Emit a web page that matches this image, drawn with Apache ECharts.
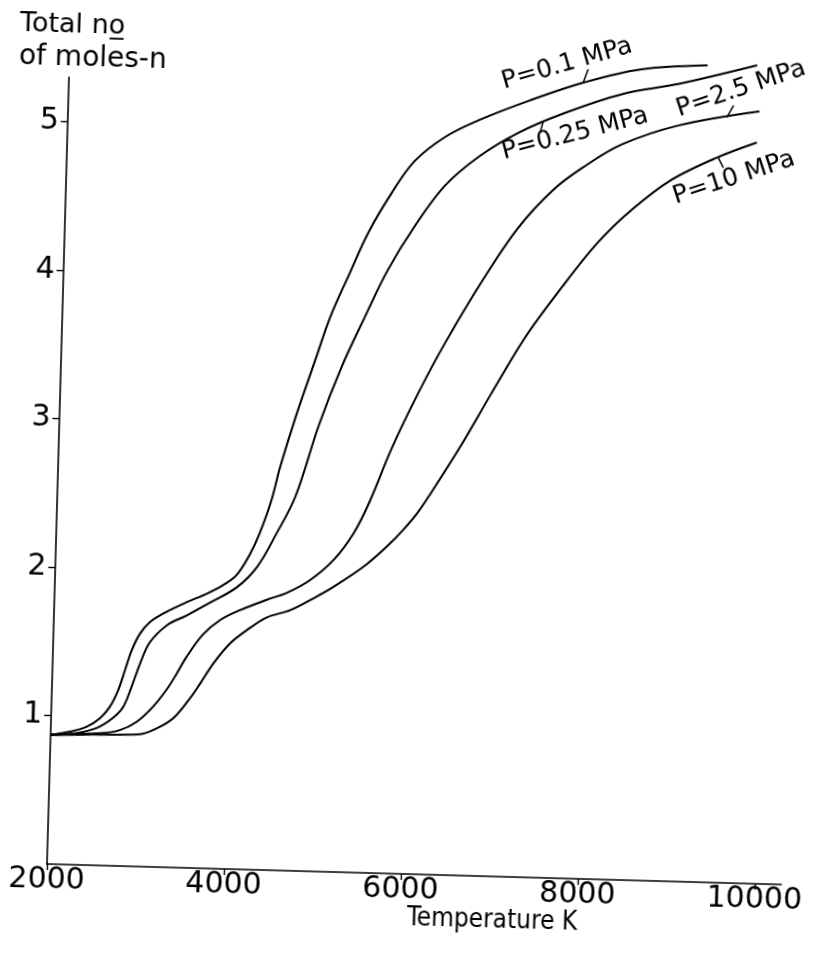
<!DOCTYPE html>
<html><head><meta charset="utf-8">
<script src="https://cdn.jsdelivr.net/npm/echarts@6/dist/echarts.min.js"></script>
<style>
html,body{margin:0;padding:0;width:814px;height:956px;overflow:hidden;background:#fff;}
#chart{position:absolute;left:-40px;top:-20px;width:894px;height:1000px;transform-origin:87px 884px;transform:rotate(1.6deg);}
</style></head><body><div id="chart"></div>
<script>
// ---- data ----
const tempA  = [2000, 2220, 2400, 2550, 2660, 2750, 2820, 2890, 2980, 3090, 3270, 3500, 3720, 3900, 4050, 4200, 4300, 4420, 4510, 4670, 4870, 5030, 5230, 5430, 5680, 5930, 6270, 6650, 7210, 7810, 8450, 9210];
const molesA = [0.87, 0.895, 0.93, 0.99, 1.07, 1.185, 1.32, 1.455, 1.57, 1.65, 1.72, 1.79, 1.85, 1.91, 1.98, 2.13, 2.27, 2.49, 2.72, 3.06, 3.44, 3.74, 4.03, 4.31, 4.58, 4.80, 4.97, 5.09, 5.23, 5.36, 5.46, 5.50];
const tempB  = [2000, 2300, 2520, 2700, 2810, 2900, 2990, 3090, 3280, 3500, 3760, 4060, 4280, 4490, 4690, 4930, 5170, 5420, 5660, 5950, 6280, 6660, 7090, 7600, 8250, 8890, 9770];
const molesB = [0.87, 0.888, 0.925, 0.996, 1.07, 1.21, 1.37, 1.51, 1.63, 1.70, 1.79, 1.90, 2.04, 2.27, 2.52, 3.00, 3.40, 3.745, 4.06, 4.36, 4.64, 4.845, 5.01, 5.15, 5.29, 5.37, 5.51];
const tempC  = [2000, 2560, 2780, 2970, 3150, 3300, 3400, 3510, 3690, 3880, 4100, 4400, 4620, 4880, 5140, 5360, 5530, 5760, 6045, 6330, 6745, 7120, 7500, 7835, 8260, 8900, 9810];
const molesC = [0.87, 0.89, 0.915, 0.975, 1.08, 1.20, 1.30, 1.42, 1.575, 1.675, 1.745, 1.82, 1.87, 1.96, 2.10, 2.285, 2.50, 2.86, 3.24, 3.58, 4.02, 4.37, 4.63, 4.79, 4.95, 5.09, 5.20];
const tempD  = [2000, 2500, 3000, 3200, 3380, 3560, 3670, 3820, 4000, 4180, 4400, 4670, 4930, 5150, 5480, 5770, 5910, 6070, 6200, 6530, 6870, 7240, 7610, 8030, 8410, 8830, 9340, 9790];
const molesD = [0.87, 0.88, 0.89, 0.935, 1.005, 1.14, 1.24, 1.385, 1.52, 1.61, 1.70, 1.755, 1.84, 1.92, 2.06, 2.22, 2.31, 2.43, 2.55, 2.88, 3.25, 3.64, 3.96, 4.29, 4.52, 4.72, 4.88, 4.99];
const seriesNames = ['P=0.1 MPa', 'P=0.25 MPa', 'P=2.5 MPa', 'P=10 MPa'];
const xTickValues = [2000, 4000, 6000, 8000, 10000];
const yTickValues = [1, 2, 3, 4, 5];
const yTitleLines = ['Total no\u0332', 'of moles-n'];
const xTitle = 'Temperature K';

// ---- geometry helpers (scan is rotated slightly) ----
const ANG = 1.6 * Math.PI / 180, C = Math.cos(ANG), S = Math.sin(ANG);
const OX = 87, OY = 884;
function screenToDiv(x, y) { const dx = x - 47, dy = y - 864; return [OX + dx * C + dy * S, OY - dx * S + dy * C]; }
function vecToDiv(dx, dy) { return [dx * C + dy * S, -dx * S + dy * C]; }

const FONT = "'DejaVu Sans', sans-serif";
const CFONT = "'DejaVu Sans Condensed', 'DejaVu Sans', sans-serif";
const zip = (a, b) => a.map((v, i) => [v, b[i]]);
const sets = [[tempA, molesA], [tempB, molesB], [tempC, molesC], [tempD, molesD]];

const chart = echarts.init(document.getElementById('chart'), null, { renderer: 'canvas' });
chart.setOption({
  animation: false,
  backgroundColor: '#fff',
  grid: { left: OX, top: OY - 5.3 * 148.5, width: 8300 * 177 / 2000, height: 5.3 * 148.5, containLabel: false },
  xAxis: {
    type: 'value', min: 2000, max: 10300,
    axisLine: { lineStyle: { color: '#000', width: 1.6 } },
    axisTick: { show: true, length: 6, inside: false, customValues: xTickValues, lineStyle: { color: '#000', width: 1.4 } },
    axisLabel: { customValues: xTickValues, formatter: v => String(v), color: '#000', fontFamily: FONT, fontSize: 30, margin: 1 },
    splitLine: { show: false }
  },
  yAxis: {
    type: 'value', min: 0, max: 5.3,
    axisLine: { show: true, lineStyle: { color: '#000', width: 1.6 } },
    axisTick: { show: true, length: 7, inside: false, customValues: yTickValues, lineStyle: { color: '#000', width: 1.4 } },
    axisLabel: { customValues: yTickValues, formatter: v => String(v), color: '#000', fontFamily: FONT, fontSize: 30, margin: 9 },
    splitLine: { show: false }
  },
  series: sets.map((s, i) => ({
    name: seriesNames[i], type: 'line', data: zip(s[0], s[1]),
    showSymbol: false, smooth: 0.35, clip: false,
    lineStyle: { color: '#000', width: 2 }
  }))
});

// label annotations: text centre on screen, screen angle, anchor on curve, leader vector
const labelCfg = [
  { center: [567, 64], angle: 16.0, anchor: [7810, 5.36], leader: [5, -13.5] },
  { center: [575, 134], angle: 14.4, anchor: [7370, 5.09], leader: [-3.3, 11.7] },
  { center: [741, 89], angle: 18.4, anchor: [9445, 5.155], leader: [6.6, -11.7] },
  { center: [734, 178], angle: 18.0, anchor: [9360, 4.88], leader: [5, 10] }
];
const g = [];
labelCfg.forEach((l, i) => {
  const p = screenToDiv(l.center[0], l.center[1]);
  g.push({ type: 'text', x: p[0], y: p[1], rotation: (l.angle + 1.6) * Math.PI / 180,
    style: { text: seriesNames[i], x: 0, y: 0, align: 'center', verticalAlign: 'middle', textAlign: 'center', textVerticalAlign: 'middle', font: "25px " + FONT, fill: '#000' } });
  const a = chart.convertToPixel({ gridIndex: 0 }, l.anchor);
  const v = vecToDiv(l.leader[0], l.leader[1]);
  g.push({ type: 'line', shape: { x1: a[0], y1: a[1], x2: a[0] + v[0], y2: a[1] + v[1] }, style: { stroke: '#000', lineWidth: 1.5 } });
});
const t1 = screenToDiv(20, 24), t2 = screenToDiv(19, 57);
g.push({ type: 'text', x: t1[0], y: t1[1], style: { text: yTitleLines[0], x: 0, y: 0, align: 'left', verticalAlign: 'middle', textAlign: 'left', textVerticalAlign: 'middle', font: "27px " + FONT, fill: '#000' } });
g.push({ type: 'text', x: t2[0], y: t2[1], style: { text: yTitleLines[1], x: 0, y: 0, align: 'left', verticalAlign: 'middle', textAlign: 'left', textVerticalAlign: 'middle', font: "28px " + FONT, fill: '#000' } });
const tx = screenToDiv(492, 921);
g.push({ type: 'text', x: tx[0], y: tx[1], style: { text: xTitle, x: 0, y: 0, align: 'center', verticalAlign: 'middle', textAlign: 'center', textVerticalAlign: 'middle', font: "26px " + CFONT, fill: '#000' } });
chart.setOption({ graphic: { elements: g } });
</script></body></html>
